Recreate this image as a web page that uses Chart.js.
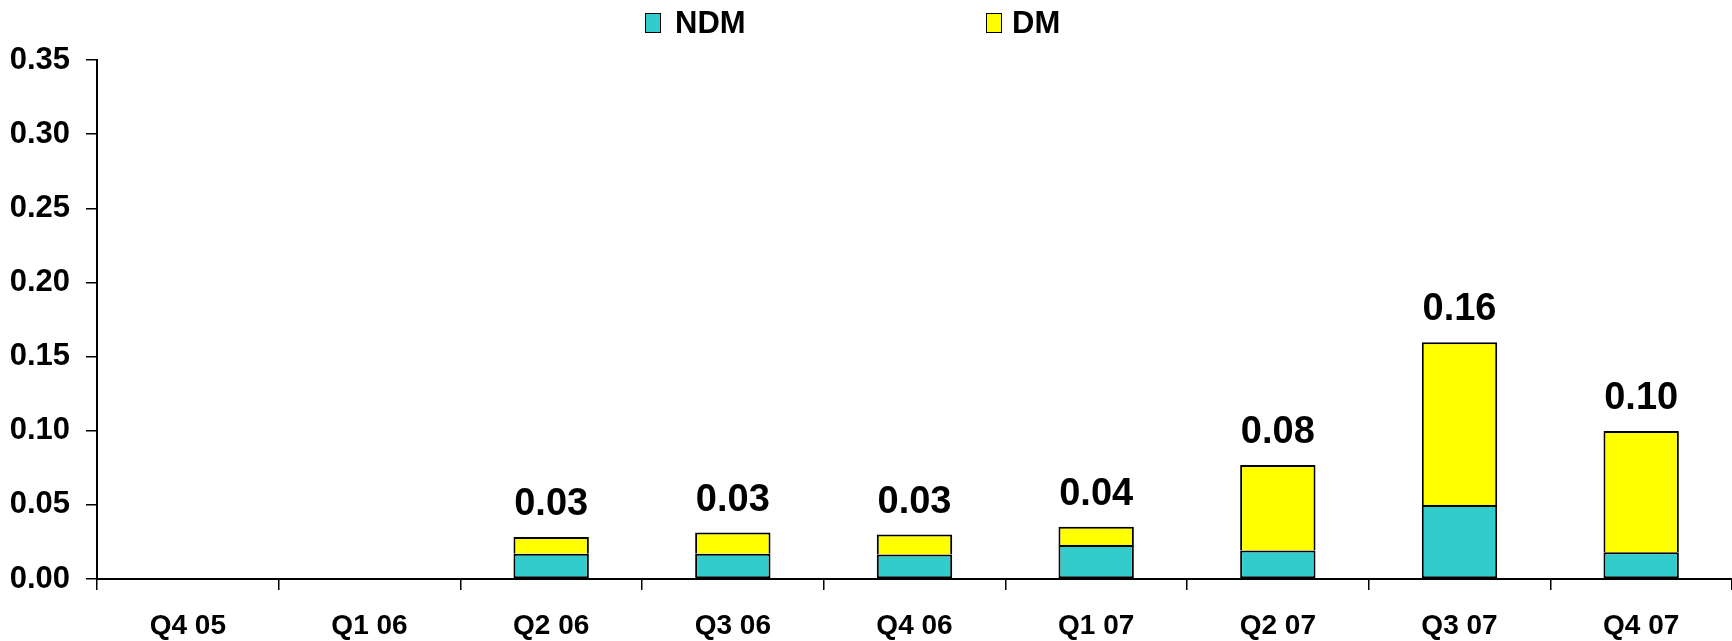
<!DOCTYPE html>
<html>
<head>
<meta charset="utf-8">
<script src="https://cdn.jsdelivr.net/npm/chart.js@4/dist/chart.umd.min.js"></script>
<style>
  body { margin: 0; background: #fff; }
  #wrap { position: relative; width: 1732px; height: 641px; }
  .legend-box { position: absolute; top: 13px; width: 14px; height: 18px; border: 1.5px solid #000; }
  .legend-text { position: absolute; top: 8px; font: bold 31px "Liberation Sans", Arial, sans-serif; line-height: 30px; color: #000; }
</style>
</head>
<body>
<div id="wrap">
  <canvas id="chart"></canvas>
  <div class="legend-box" style="left:645px;background:#33CCCC"></div>
  <div class="legend-text" style="left:675px">NDM</div>
  <div class="legend-box" style="left:986px;background:#FFFF00"></div>
  <div class="legend-text" style="left:1012px">DM</div>
</div>
<script>
const categories = ['Q4 05', 'Q1 06', 'Q2 06', 'Q3 06', 'Q4 06', 'Q1 07', 'Q2 07', 'Q3 07', 'Q4 07'];
const ndmValues = [null, null, 0.017, 0.017, 0.0165, 0.023, 0.0193, 0.0499, 0.018];
const dmValues = [null, null, 0.0113, 0.0143, 0.0135, 0.0122, 0.0575, 0.1098, 0.0818];
const yTicks = [0, 0.05, 0.10, 0.15, 0.20, 0.25, 0.30, 0.35];

const FONT = '"Liberation Sans", Arial, sans-serif';

// totals written above each stacked bar
const totalLabels = {
  id: 'totalLabels',
  afterDatasetsDraw(chart) {
    const ctx = chart.ctx;
    const meta = chart.getDatasetMeta(1);
    ctx.save();
    ctx.font = 'bold 38px ' + FONT;
    ctx.fillStyle = '#000';
    ctx.textAlign = 'center';
    ctx.textBaseline = 'alphabetic';
    meta.data.forEach((bar, i) => {
      if (ndmValues[i] == null) return;
      const total = ndmValues[i] + dmValues[i];
      ctx.fillText(total.toFixed(2), bar.x, bar.y - 22);
    });
    ctx.restore();
  }
};

new Chart(document.getElementById('chart'), {
  type: 'bar',
  data: {
    labels: categories,
    datasets: [
      { label: 'NDM', data: ndmValues, backgroundColor: '#33CCCC', borderColor: '#000', borderWidth: 2, borderSkipped: false },
      { label: 'DM', data: dmValues, backgroundColor: '#FFFF00', borderColor: '#000', borderWidth: 2, borderSkipped: 'start' }
    ]
  },
  options: {
    responsive: true,
    maintainAspectRatio: false,
    animation: false,
    layout: { padding: { top: 60, left: 0, right: 0, bottom: 0 } },
    datasets: { bar: { categoryPercentage: 1, barPercentage: 0.415 } },
    plugins: { legend: { display: false }, tooltip: { enabled: false } },
    scales: {
      x: {
        stacked: true,
        afterFit: s => { s.height = 62; },
        grid: { drawOnChartArea: false, drawTicks: true, tickLength: 11, color: '#000', lineWidth: 1.5, offset: true },
        border: { color: '#000', width: 2 },
        ticks: { color: '#000', padding: 19, font: { family: FONT, size: 28, weight: 'bold' } }
      },
      y: {
        stacked: true,
        min: 0,
        max: 0.35,
        afterFit: s => { s.width = 97; },
        afterBuildTicks: s => { s.ticks = yTicks.map(v => ({ value: v })); },
        grid: { drawOnChartArea: false, drawTicks: true, tickLength: 11, color: '#000', lineWidth: 1.5 },
        border: { color: '#000', width: 2 },
        ticks: { color: '#000', padding: 16, font: { family: FONT, size: 31, weight: 'bold' }, callback: v => v.toFixed(2) }
      }
    }
  },
  plugins: [totalLabels]
});
</script>
</body>
</html>
